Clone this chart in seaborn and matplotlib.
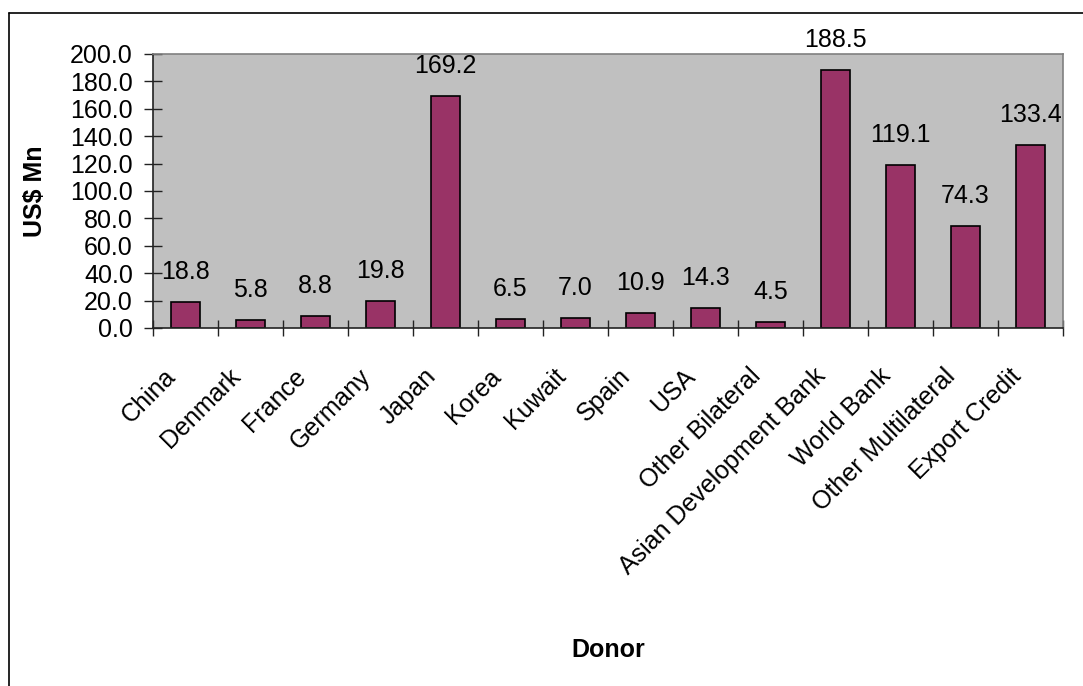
import matplotlib
matplotlib.use("Agg")
import matplotlib.pyplot as plt
from matplotlib.lines import Line2D
from matplotlib.ticker import FixedLocator, FormatStrFormatter
from matplotlib.transforms import ScaledTranslation
import seaborn as sns
import pandas as pd

# data
donors = ["China", "Denmark", "France", "Germany", "Japan", "Korea", "Kuwait",
          "Spain", "USA", "Other Bilateral", "Asian Development Bank",
          "World Bank", "Other Multilateral", "Export Credit"]
amounts = [18.8, 5.8, 8.8, 19.8, 169.2, 6.5, 7.0, 10.9, 14.3, 4.5,
           188.5, 119.1, 74.3, 133.4]

df = pd.DataFrame({"Donor": donors, "US$ Mn": amounts})

sns.set_style("white")
plt.rcParams['font.family'] = ['Liberation Sans', 'DejaVu Sans']
plt.rcParams['text.color'] = 'black'
plt.rcParams['axes.labelcolor'] = 'black'
plt.rcParams['xtick.color'] = 'black'
plt.rcParams['ytick.color'] = 'black'

fig = plt.figure(figsize=(10.83, 6.86), dpi=100)
ax = fig.add_axes([0.1413, 0.5219, 0.9815 - 0.1413, 0.9213 - 0.5219])
ax.set_facecolor("#C0C0C0")

sns.barplot(data=df, x="Donor", y="US$ Mn", color="#993366", width=0.44,
            edgecolor="black", linewidth=1.2, saturation=1, ax=ax)

# value labels above bars
for i, v in enumerate(amounts):
    ax.annotate(f"{v:.1f}", (i, v), xytext=(0, 13), textcoords="offset points",
                ha="center", va="bottom", fontsize=18, annotation_clip=False)

ax.set_xlim(-0.5, len(donors) - 0.5)
ax.set_ylim(0, 200)
ax.set_yticks(range(0, 201, 20))
ax.yaxis.set_major_formatter(FormatStrFormatter("%.1f"))
ax.tick_params(axis="y", direction="inout", length=13, width=1, labelsize=18,
               left=True, color="#222222", pad=8)

# category ticks between bars, labels on centres
ax.xaxis.set_minor_locator(FixedLocator([i - 0.5 for i in range(len(donors) + 1)]))
ax.tick_params(axis="x", which="minor", direction="inout", length=12, width=1,
               bottom=True, color="#222222")
ax.tick_params(axis="x", which="major", length=0, pad=26)
ax.set_xticks(range(len(donors)))
ax.set_xticklabels(donors, rotation=45, ha="right", rotation_mode="anchor",
                   fontsize=18)
shift = ScaledTranslation(-22 / 100, 0, fig.dpi_scale_trans)
for lab in ax.get_xticklabels():
    lab.set_transform(lab.get_transform() + shift)

ax.set_xlabel("Donor", fontsize=18, fontweight="bold")
ax.set_ylabel("US$ Mn", fontsize=18, fontweight="bold")
ax.xaxis.set_label_coords(0.5, -1.131)
ax.yaxis.set_label_coords(-0.116, 0.5)

for s in ["left", "bottom"]:
    ax.spines[s].set_color("#222222")
    ax.spines[s].set_linewidth(1.2)
for s in ["top", "right"]:
    ax.spines[s].set_color("#808080")
    ax.spines[s].set_linewidth(1.2)

# outer chart border (left and top edges visible)
fig.add_artist(Line2D([9 / 1083, 9 / 1083], [0, 1 - 13 / 686], color="black",
                      linewidth=1.2, transform=fig.transFigure))
fig.add_artist(Line2D([9 / 1083, 1], [1 - 13 / 686, 1 - 13 / 686], color="black",
                      linewidth=1.2, transform=fig.transFigure))

fig.savefig("out.png", dpi=100)
